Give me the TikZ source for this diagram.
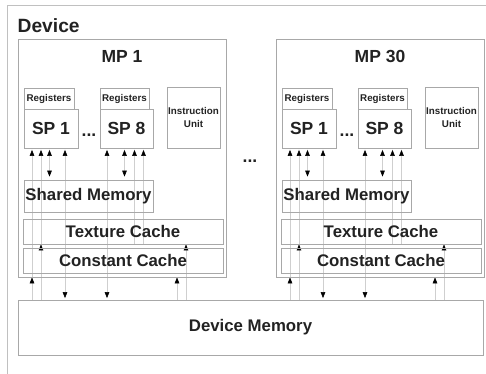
\documentclass[tikz,border=0pt]{standalone}
\usepackage{fontspec}
\setmainfont{Liberation Sans}
\usetikzlibrary{arrows.meta,backgrounds}
\definecolor{framec}{HTML}{C0C0C0}
\definecolor{boxc}{HTML}{A8A8A8}
\definecolor{linec}{HTML}{CFCFCF}
\definecolor{txt}{HTML}{222222}
\tikzset{
  base/.style={draw=boxc, line width=0.8pt, inner sep=0pt, text=txt},
  mpbox/.style={base},
  regbox/.style={base, font=\bfseries\fontsize{9.8}{11}\selectfont},
  iubox/.style={base, align=center, font=\bfseries\fontsize{9.8}{12.5}\selectfont},
  spbox/.style={base, font=\bfseries\fontsize{17.5}{20}\selectfont},
  membox/.style={base, font=\bfseries\fontsize{16.8}{20}\selectfont},
  biglbl/.style={inner sep=0pt, text=txt, font=\bfseries\fontsize{17.5}{20}\selectfont},
  devlbl/.style={inner sep=0pt, text=txt, font=\bfseries\fontsize{19.2}{22}\selectfont},
  ln/.style={draw=linec, line width=0.6pt},
  tipk/.tip={Triangle[length=6pt,width=4.6pt,color=black]},
  up/.style={ln, -tipk},
  bi/.style={ln, tipk-tipk},
}
\newcommand\mpunit[1]{%
  \node[mpbox, minimum width=208pt, minimum height=238pt] (mp) at (122,158) {};
  \node[biglbl] (title) at (122,56) {#1};
  \node[regbox, minimum width=50pt, minimum height=21pt] (reg1) at (49,98.5) {Registers};
  \node[spbox, minimum width=54pt, minimum height=39pt] (sp1) at (51,128.5) {SP 1};
  \node[regbox, minimum width=49pt, minimum height=21pt] (reg2) at (124.5,98.5) {Registers};
  \node[spbox, minimum width=53pt, minimum height=39pt] (sp8) at (126.5,128.5) {SP 8};
  \node[iubox, minimum width=53pt, minimum height=61pt] (iu) at (193.5,117.5) {Instruction\\Unit};
  \node[biglbl] (dots) at (89,135) {...};
  \node[membox, minimum width=129pt, minimum height=32pt] (shm) at (88.5,196) {Shared Memory};
  \node[membox, minimum width=200pt, minimum height=25pt] (tex) at (123,231.5) {Texture Cache};
  \node[membox, minimum width=200pt, minimum height=25pt] (con) at (123,260.5) {Constant Cache};
  \coordinate (ca) at (32,0);
  \coordinate (cb) at (41,0);
  \coordinate (cc) at (49.5,0);
  \coordinate (cd) at (65,0);
  \coordinate (ce) at (107,0);
  \coordinate (cf) at (124.5,0);
  \coordinate (cg) at (134.5,0);
  \coordinate (ch) at (143.5,0);
  \coordinate (ci) at (177,0);
  \coordinate (cj) at (186,0);
}
\newcommand\mpconn[1]{%
  \draw[up] (dm.north -| #1-ca) -- (#1-mp.south -| #1-ca);
  \draw[up, shorten >=1.5pt] (#1-mp.south -| #1-ca) -- (#1-sp1.south -| #1-ca);
  \draw[up] (dm.north -| #1-cb) -- (#1-tex.south -| #1-cb);
  \draw[up, shorten >=1.5pt] (#1-tex.south -| #1-cb) -- (#1-sp1.south -| #1-cb);
  \draw[bi, shorten <=1.5pt, shorten >=3pt] (#1-sp1.south -| #1-cc) -- (#1-shm.north -| #1-cc);
  \draw[bi, shorten <=1.5pt, shorten >=1.5pt] (#1-sp1.south -| #1-cd) -- (dm.north -| #1-cd);
  \draw[bi, shorten <=1.5pt, shorten >=1.5pt] (#1-sp8.south -| #1-ce) -- (dm.north -| #1-ce);
  \draw[bi, shorten <=1.5pt, shorten >=3pt] (#1-sp8.south -| #1-cf) -- (#1-shm.north -| #1-cf);
  \draw[up, shorten >=1.5pt] (#1-tex.south -| #1-cg) -- (#1-sp8.south -| #1-cg);
  \draw[up, shorten >=1.5pt] (#1-tex.south -| #1-ch) -- (#1-sp8.south -| #1-ch);
  \draw[up] (dm.north -| #1-ci) -- (#1-mp.south -| #1-ci);
  \draw[up] (dm.north -| #1-cj) -- (#1-tex.south -| #1-cj);
}
\begin{document}
\begin{tikzpicture}[x=1pt, y=-1pt]
  \useasboundingbox (0,0) rectangle (486,373);
  \clip (0,0) rectangle (486,373);
  \draw[framec, line width=0.9pt] (7,5) rectangle (500,390);
  \node[devlbl, anchor=base west] (device) at (17.5,32) {Device};
  \begin{scope}[name prefix=a-]
    \mpunit{MP 1}
  \end{scope}
  \begin{scope}[name prefix=b-, xshift=258pt]
    \mpunit{MP 30}
  \end{scope}
  \node[biglbl] (mdots) at (250,161) {...};
  \node[membox, minimum width=465pt, minimum height=55pt] (dm) at (250.5,327.5) {Device Memory};
  \begin{scope}[on background layer]
    \mpconn{a}
    \mpconn{b}
  \end{scope}
\end{tikzpicture}
\end{document}
